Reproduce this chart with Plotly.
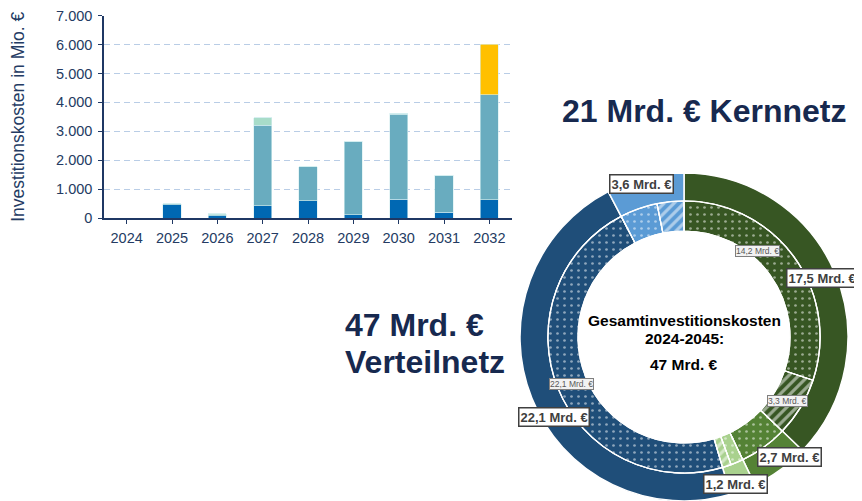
import plotly.graph_objects as go

W, H = 862, 501
OFF = 8  # page body margin offset

# ---------------- data ----------------
years = ["2024", "2025", "2026", "2027", "2028", "2029", "2030", "2031", "2032"]
dark_blue = [0, 460, 80, 430, 590, 115, 655, 195, 630]
teal = [0, 30, 30, 2780, 1180, 2540, 2935, 1280, 3640]
mint = [0, 10, 30, 260, 0, 0, 30, 0, 0]
yellow = [0, 0, 0, 0, 0, 0, 0, 0, 1740]
y_ticks = [0, 1000, 2000, 3000, 4000, 5000, 6000, 7000]

outer_labels = ["Kernnetz A", "Kernnetz B", "Kernnetz C", "Verteilnetz A", "Verteilnetz B"]
outer_values = [17.5, 2.7, 1.2, 22.1, 3.6]
outer_colors = ["#375623", "#548235", "#a9d18e", "#1f4e79", "#5b9bd5"]

inner_labels = ["KA1", "KA2", "KB1", "KC1", "KC2", "VA1", "VB1", "VB2"]
inner_values = [14.2, 3.3, 2.7, 0.7, 0.5, 22.1, 2.1, 1.5]
inner_colors = ["#375623", "#375623", "#548235", "#a9d18e", "#a9d18e", "#1f4e79", "#5b9bd5", "#5b9bd5"]
inner_shapes = [".", "/", ".", ".", "/", ".", ".", "/"]

big_labels = ["3,6 Mrd. €", "17,5 Mrd. €", "22,1 Mrd. €", "2,7 Mrd. €", "1,2 Mrd. €"]
small_labels = ["14,2 Mrd. €", "22,1 Mrd. €", "3,3 Mrd. €"]

NAVY = "#1f3864"
TXT = "#17294f"
FONT = "Arial, Liberation Sans, sans-serif"


def px(x):
    return (x - OFF) / W


def py(y):
    return 1 - (y - OFF) / H


fig = go.Figure()

bar_w = 0.4
for vals, col in [(dark_blue, "#0068b3"), (teal, "#69acbf"), (mint, "#a8dcc9"), (yellow, "#ffc000")]:
    fig.add_trace(go.Bar(x=years, y=vals, marker=dict(color=col, line=dict(color="#d6eef0", width=0.6)),
                         width=bar_w, showlegend=False, hoverinfo="skip"))

# outer ring
ocx, ocy, orad = 684, 337, 164
irad = 136
hole_r = 106
fig.add_trace(go.Pie(
    labels=outer_labels, values=outer_values, sort=False, direction="clockwise", rotation=0,
    marker=dict(colors=outer_colors, line=dict(color="white", width=1.5)),
    hole=irad / orad, textinfo="none", hoverinfo="skip", showlegend=False,
    domain=dict(x=[px(ocx - orad), px(ocx + orad)], y=[max(0, py(ocy + orad)), py(ocy - orad)]),
))
inner_dom = dict(x=[px(ocx - irad), px(ocx + irad)], y=[py(ocy + irad), py(ocy - irad)])
# inner ring, plain colours
fig.add_trace(go.Pie(
    labels=inner_labels, values=inner_values, sort=False, direction="clockwise", rotation=0,
    marker=dict(colors=inner_colors, line=dict(color="white", width=1.2)),
    hole=hole_r / irad, textinfo="none", hoverinfo="skip", showlegend=False,
    domain=inner_dom,
))
# inner ring, pattern overlay
solid = [0.12 if s == "." else 0.45 for s in inner_shapes]
fig.add_trace(go.Pie(
    labels=inner_labels, values=inner_values, sort=False, direction="clockwise", rotation=0,
    marker=dict(colors=["rgba(0,0,0,0)"] * len(inner_values), line=dict(color="white", width=1.2),
                pattern=dict(shape=inner_shapes, fgcolor="white", bgcolor="rgba(0,0,0,0)",
                             size=7, solidity=solid, fillmode="overlay")),
    hole=hole_r / irad, textinfo="none", hoverinfo="skip", showlegend=False,
    domain=inner_dom,
))

ann = []
# big titles
ann.append(dict(x=px(560), y=py(111), text="<b>21 Mrd. € Kernnetz</b>", xanchor="left", yanchor="middle",
                font=dict(family=FONT, size=32, color=TXT)))
ann.append(dict(x=px(343), y=py(325), text="<b>47 Mrd. €</b>", xanchor="left", yanchor="middle",
                font=dict(family=FONT, size=32, color=TXT)))
ann.append(dict(x=px(343), y=py(362), text="<b>Verteilnetz</b>", xanchor="left", yanchor="middle",
                font=dict(family=FONT, size=32, color=TXT)))
# centre text
for t, yy in [("Gesamtinvestitionskosten", 320), ("2024-2045:", 338), ("47 Mrd. €", 364)]:
    ann.append(dict(x=px(ocx), y=py(yy), text="<b>" + t + "</b>", xanchor="center", yanchor="middle",
                    font=dict(family=FONT, size=15.5, color="black")))
# big label boxes
for t, (xx, yy) in zip(big_labels, [(641, 184), (822, 277.5), (554, 416.5), (789, 456.5), (735, 483.5)]):
    ann.append(dict(x=px(xx), y=py(yy), text="<b>" + t + "</b>", xanchor="center", yanchor="middle",
                    font=dict(family=FONT, size=13, color="#404040"), bgcolor="white",
                    bordercolor="#404040", borderwidth=1.5, borderpad=1))
for t, (xx, yy) in zip(small_labels, [(757, 250.5), (571, 383.5), (787, 401)]):
    ann.append(dict(x=px(xx), y=py(yy), text=t, xanchor="center", yanchor="middle",
                    font=dict(family=FONT, size=8.5, color="#595959"), bgcolor="#f2f2f2",
                    bordercolor="#7f7f7f", borderwidth=1, borderpad=0))
for a in ann:
    a.update(xref="paper", yref="paper", showarrow=False)

fig.update_layout(
    width=W, height=H, margin=dict(l=0, r=0, t=0, b=0, autoexpand=False),
    paper_bgcolor="white", plot_bgcolor="white",
    barmode="stack", separators=",.",
    font=dict(family=FONT, color=NAVY),
    annotations=ann,
    xaxis=dict(domain=[px(104), px(512)], showline=True, linecolor=NAVY, linewidth=1.5, automargin=False,
               ticks="outside", ticklen=4, tickcolor=NAVY, tickfont=dict(size=14.5, color="#243b63"),
               ticklabelstandoff=2, showgrid=False, fixedrange=True),
    yaxis=dict(domain=[py(218), py(15.5)], range=[0, 7008], tickvals=y_ticks,
               separatethousands=True, tickformat=",d", ticklabeloverflow="allow",
               automargin=False, ticklabelstandoff=3,
               showline=True, linecolor=NAVY, linewidth=1.5, ticks="outside", ticklen=4, tickcolor=NAVY,
               tickfont=dict(size=14.5, color="#243b63"), showgrid=True, gridcolor="#b9cde6",
               griddash="6px,4px", gridwidth=1, zeroline=False,
               title=dict(text="Investitionskosten in Mio. €", font=dict(size=17.5, color="#243b63"), standoff=27)),
)

fig.write_html("out.html")
